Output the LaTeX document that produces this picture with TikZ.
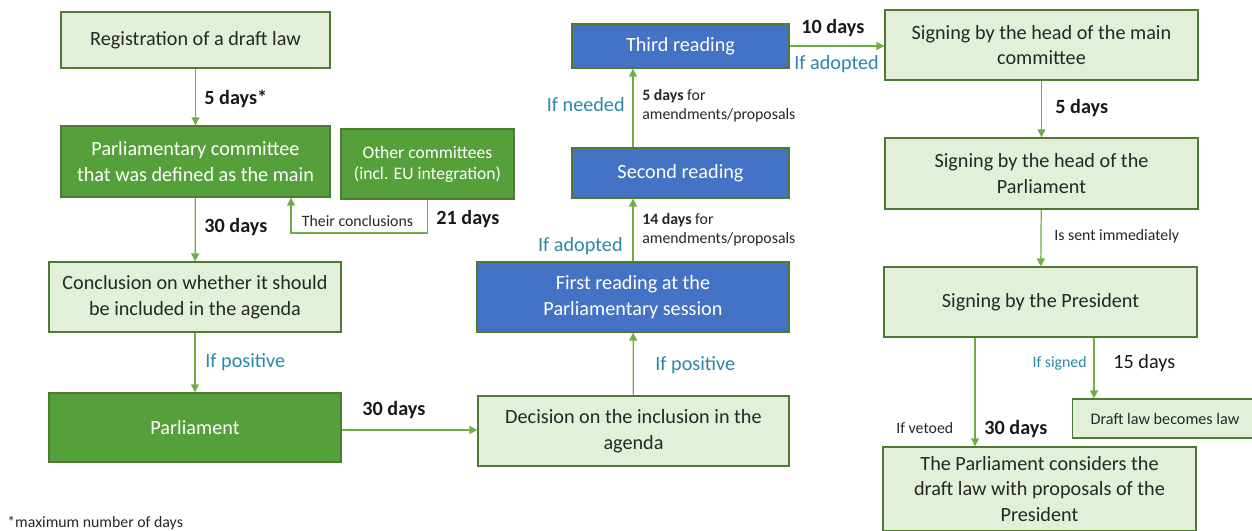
\documentclass[tikz,border=0pt]{standalone}
\usepackage{fontspec}
\setmainfont{Carlito}
\usepackage{tikz}
\usetikzlibrary{arrows.meta,positioning}

\definecolor{lightfill}{HTML}{E2F0D9}
\definecolor{darkfill}{HTML}{55A03A}
\definecolor{bluefill}{HTML}{4472C4}
\definecolor{boxline}{HTML}{4E7A34}
\definecolor{arrowcol}{HTML}{70AD47}
\definecolor{tealtext}{HTML}{2E86A6}
\definecolor{boxtext}{HTML}{262626}

\begin{document}
\begin{tikzpicture}[x=0.02cm,y=-0.02cm,
  >={Triangle[length=4.5pt,width=4.5pt]},
  basebox/.style={draw=boxline, line width=0.8pt, align=center, inner sep=2pt,
    font=\fontsize{11.5}{14.7}\selectfont},
  light/.style={basebox, fill=lightfill, text=boxtext},
  dark/.style={basebox, fill=darkfill, text=white},
  blue/.style={basebox, fill=bluefill, text=white},
  days/.style={inner sep=0pt, font=\fontsize{11.5}{14}\selectfont\bfseries, text=black!90},
  cond/.style={inner sep=0pt, font=\fontsize{11.5}{14}\selectfont, text=tealtext},
  note/.style={inner sep=0pt, align=left, font=\fontsize{9}{11}\selectfont, text=black!85},
  flow/.style={->, draw=arrowcol, line width=0.7pt},
  every edge/.append style={draw=arrowcol, line width=0.7pt}]
\useasboundingbox (0,0) rectangle (1252,531);

% left column
\node[light] (b_reg)   at (195.5,40)  [minimum width=5.38cm, minimum height=1.12cm] {Registration of a draft law};
\node[dark]  (b_main)  at (195.5,161.5) [minimum width=5.38cm, minimum height=1.42cm] {Parliamentary committee\\that was defined as the main};
\node[dark]  (b_other) at (427.5,164) [minimum width=3.46cm, minimum height=1.40cm, font=\fontsize{10}{11.9}\selectfont] {Other committees\\(incl. EU integration)};
\node[light] (b_concl) at (195,297)   [minimum width=5.84cm, minimum height=1.40cm] {Conclusion on whether it should\\be included in the agenda};
\node[dark]  (b_parl)  at (195,427.5) [minimum width=5.84cm, minimum height=1.38cm] {Parliament};

% middle column
\node[light] (b_dec)    at (633.5,431) [minimum width=6.22cm, minimum height=1.40cm] {Decision on the inclusion in the\\agenda};
\node[blue]  (b_first)  at (633,297)   [minimum width=6.24cm, minimum height=1.40cm] {First reading at the\\Parliamentary session};
\node[blue]  (b_second) at (680.5,173) [minimum width=4.34cm, minimum height=1.00cm] {Second reading};
\node[blue]  (b_third)  at (680.5,46)  [minimum width=4.34cm, minimum height=0.88cm] {Third reading};

% right column
\node[light] (b_signmain) at (1041.5,45)  [minimum width=6.26cm, minimum height=1.40cm] {Signing by the head of the main\\committee};
\node[light] (b_signhead) at (1041.5,173.5) [minimum width=6.26cm, minimum height=1.42cm] {Signing by the head of the\\Parliament};
\node[light] (b_pres)     at (1040.5,302) [minimum width=6.26cm, minimum height=1.40cm] {Signing by the President};
\node[light] (b_law)      at (1165,418.5) [minimum width=3.70cm, minimum height=0.78cm, font=\fontsize{9.2}{11}\selectfont] {Draft law becomes law};
\node[light] (b_cons)     at (1039.5,489) [minimum width=6.26cm, minimum height=1.68cm] {The Parliament considers the\\draft law with proposals of the\\President};

\coordinate (c_back) at (291,233);
\coordinate (c_veto) at (975,0);
\coordinate (c_sign) at (1094,0);

\path[->]
(b_reg) edge (b_main)
(b_main) edge (b_concl)
(b_concl) edge (b_parl)
(b_parl.east |- 0,430) edge (b_dec.west |- 0,430)
(b_dec) edge (b_first)
(b_first.north) edge (b_first.north |- b_second.south)
(b_first.north |- b_second.north) edge (b_first.north |- b_third.south)
(b_third.east) edge (b_third.east -| b_signmain.west)
(b_signmain) edge (b_signhead)
(b_signhead) edge (b_pres)
(c_veto |- b_pres.south) edge (c_veto |- b_cons.north)
(c_sign |- b_pres.south) edge (c_sign |- b_law.north)
; %end path

\draw[flow] (b_other.south) |- (c_back) -- (c_back |- b_main.south);

% labels
\node[days] (l_5)    [anchor=west] at (204,99)  {5 days*};
\node[days] (l_30a)  [anchor=west] at (204,227) {30 days};
\node[note] (l_their) at (357.5,221) {Their conclusions};
\node[days] (l_21)   [anchor=west] at (436,219) {21 days};
\node[cond] (l_posa) [anchor=west] at (205,362) {If positive};
\node[days] (l_30b)  [anchor=west] at (362,410) {30 days};
\node[cond] (l_posb) [anchor=west] at (655,365) {If positive};
\node[cond] (l_adopa) [anchor=east] at (623,246) {If adopted};
\node[note] (l_14)   [anchor=west] at (642,230) {\textbf{14 days} for\\amendments/proposals};
\node[cond] (l_need) [anchor=east] at (625,105) {If needed};
\node[note] (l_5b)   [anchor=west] at (642,106) {\textbf{5 days} for\\amendments/proposals};
\node[days] (l_10)   [anchor=west] at (801,28)  {10 days};
\node[cond] (l_adopb) [anchor=west] at (794,64) {If adopted};
\node[days] (l_5c)   [anchor=west] at (1055,108) {5 days};
\node[note] (l_sent) [anchor=west] at (1054,236) {Is sent immediately};
\node[note, text=tealtext] (l_signed) [anchor=east] at (1087,363) {If signed};
\node[days, font=\fontsize{11.5}{14}\selectfont] (l_15) [anchor=west] at (1113,363) {15 days};
\node[note] (l_veto) [anchor=west] at (896,428) {If vetoed};
\node[days] (l_30c)  [anchor=west] at (984,429) {30 days};
\node[note] (l_foot) [anchor=west] at (7,523) {*maximum number of days};
\end{tikzpicture}
\end{document}
